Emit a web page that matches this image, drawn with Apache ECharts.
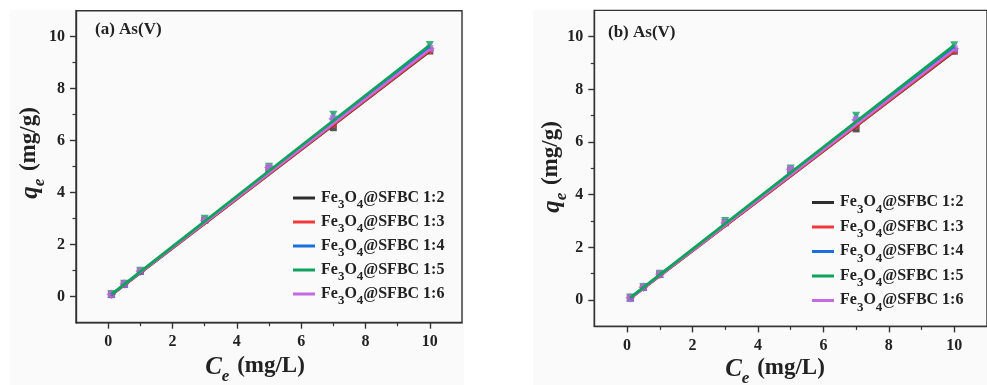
<!DOCTYPE html>
<html>
<head>
<meta charset="utf-8">
<script src="https://cdn.jsdelivr.net/npm/echarts@6/dist/echarts.min.js"></script>
<style>html,body{margin:0;padding:0;background:#fff}#c{width:987px;height:385px}</style>
</head>
<body>
<div id="c"></div>
<script>
// ---- data ----
const ceValues = [0.1, 0.5, 1, 3, 5, 7, 10];
const seriesNames = ['Fe3O4@SFBC 1:2', 'Fe3O4@SFBC 1:3', 'Fe3O4@SFBC 1:4', 'Fe3O4@SFBC 1:5', 'Fe3O4@SFBC 1:6'];
const qe_12 = [0.08, 0.48, 0.97, 2.94, 4.93, 6.50, 9.45];
const qe_13 = [0.09, 0.49, 0.98, 2.95, 4.95, 6.62, 9.47];
const qe_14 = [0.10, 0.50, 0.99, 2.98, 4.98, 6.95, 9.60];
const qe_15 = [0.10, 0.50, 1.00, 3.00, 5.00, 7.00, 9.68];
const qe_16 = [0.09, 0.49, 0.98, 2.93, 4.97, 6.85, 9.55];
// linear fit lines (at Ce = 0.1 and Ce = 10)
const fitCe = [0.1, 10];
const fit_12 = [0.05, 9.42];
const fit_13 = [0.06, 9.46];
const fit_14 = [0.08, 9.60];
const fit_15 = [0.09, 9.68];
const fit_16 = [0.07, 9.52];
const xTicks = [0, 2, 4, 6, 8, 10];
const yTicks = [0, 2, 4, 6, 8, 10];
const minorTicks = [1, 3, 5, 7, 9];
const panelTitles = ['(a) As(V)', '(b) As(V)'];

const pointSets = [qe_12, qe_13, qe_14, qe_15, qe_16];
const fitSets = [fit_12, fit_13, fit_14, fit_15, fit_16];
const colors = ['#2d2d2d', '#f0393a', '#1b6fdc', '#0ea35c', '#c46ae2'];
const symbols = ['rect', 'circle', 'triangle', 'triangle',
  'path://M0,-10 L2.6,-6.3 L7.1,-7.1 L6.3,-2.6 L10,0 L6.3,2.6 L7.1,7.1 L2.6,6.3 L0,10 L-2.6,6.3 L-7.1,7.1 L-6.3,2.6 L-10,0 L-6.3,-2.6 L-7.1,-7.1 L-2.6,-6.3 Z'];
const symRot = [0, 0, 0, 180, 0];
const symSize = [7, 7, 8, 8, 10];
const lineW = [2, 2.4, 2.4, 2.8, 2.4];

const FONT = '"Liberation Serif", "Times New Roman", serif';
const panels = [
  {grid: {left: 76, top: 10.7, width: 386, height: 312}, bg: {x: 10, y: 10, w: 454, h: 375},
   legend: {left: 293, top: 189.5, gap: 2}, title: {x: 95, y: 30},
   ytitle: {x: 31, y: 153}, xtitle: {x: 255, y: 368}},
  {grid: {left: 594.3, top: 10.4, width: 393, height: 316}, bg: {x: 533, y: 10, w: 454, h: 375},
   legend: {left: 812, top: 194, gap: 2.5}, title: {x: 608, y: 33},
   ytitle: {x: 553, y: 167}, xtitle: {x: 775, y: 370}}
];

const axisLine = {show: true, onZero: false, lineStyle: {color: '#333', width: 1.4}};
const labelStyle = {fontFamily: FONT, fontWeight: 'bold', fontSize: 16, color: '#222'};

const grids = [], xAxes = [], yAxes = [], series = [], legends = [], graphics = [];
panels.forEach((p, pi) => {
  grids.push(Object.assign({show: true, borderColor: '#333', borderWidth: 1.4, backgroundColor: 'transparent'}, p.grid));
  // main axes
  xAxes.push({gridIndex: pi, type: 'value', min: -1, max: 11, position: 'bottom',
    axisLine: axisLine, splitLine: {show: false},
    axisTick: {show: true, inside: false, length: 6, customValues: xTicks, lineStyle: {color: '#333', width: 1.4}},
    axisLabel: Object.assign({margin: 11, customValues: xTicks}, labelStyle)});
  yAxes.push({gridIndex: pi, type: 'value', min: -1, max: 11, position: 'left',
    axisLine: axisLine, splitLine: {show: false},
    axisTick: {show: true, inside: false, length: 6, customValues: yTicks, lineStyle: {color: '#333', width: 1.4}},
    axisLabel: Object.assign({margin: 11, customValues: yTicks}, labelStyle)});
  // minor tick axes
  xAxes.push({gridIndex: pi, type: 'value', min: -1, max: 11, position: 'bottom',
    axisLine: {show: false, onZero: false}, splitLine: {show: false},
    axisTick: {show: true, length: 3.5, customValues: minorTicks, lineStyle: {color: '#333', width: 1.2}},
    axisLabel: {show: false}});
  yAxes.push({gridIndex: pi, type: 'value', min: -1, max: 11, position: 'left',
    axisLine: {show: false, onZero: false}, splitLine: {show: false},
    axisTick: {show: true, length: 3.5, customValues: minorTicks, lineStyle: {color: '#333', width: 1.2}},
    axisLabel: {show: false}});
  const xi = pi * 2, yi = pi * 2;
  // markers
  seriesNames.forEach((nm, si) => {
    series.push({type: 'scatter', name: nm + ' pts', xAxisIndex: xi, yAxisIndex: yi,
      data: ceValues.map((c, k) => [c, pointSets[si][k]]),
      symbol: symbols[si], symbolRotate: symRot[si], symbolSize: symSize[si],
      itemStyle: {color: colors[si]}, z: 2 + si, silent: true});
  });
  // fit lines
  seriesNames.forEach((nm, si) => {
    series.push({type: 'line', name: nm, xAxisIndex: xi, yAxisIndex: yi,
      data: fitCe.map((c, k) => [c, fitSets[si][k]]),
      symbol: 'none', lineStyle: {color: colors[si], width: lineW[si]},
      itemStyle: {color: colors[si]}, z: 10 + (si === 4 ? 1 : 0) + (si === 3 ? 2 : 0), animation: false});
  });
  legends.push({left: p.legend.left, top: p.legend.top, orient: 'vertical', itemGap: p.legend.gap, padding: 0,
    itemWidth: 22, itemHeight: 3, icon: 'rect', data: seriesNames, selectedMode: false,
    formatter: nm => '{n|Fe}{s|3}{n|O}{s|4}{n|' + nm.slice(5) + '}',
    textStyle: {padding: [0, 0, 0, 1], rich: {
      n: {fontFamily: FONT, fontWeight: 'bold', fontSize: 16, color: '#222', lineHeight: 17, verticalAlign: 'top'},
      s: {fontFamily: FONT, fontWeight: 'bold', fontSize: 13, color: '#222', lineHeight: 13, verticalAlign: 'bottom', padding: [0, 0, -5, 0]}
    }}});
  graphics.push({type: 'rect', z: -100, shape: {x: p.bg.x, y: p.bg.y, width: p.bg.w, height: p.bg.h},
    style: {fill: '#fafafa'}, silent: true});
  graphics.push({type: 'text', z: 100, x: p.title.x, y: p.title.y,
    style: {text: panelTitles[pi], font: 'bold 17px ' + FONT, fill: '#222', verticalAlign: 'middle', align: 'left'}});
  graphics.push({type: 'text', z: 100, x: p.ytitle.x, y: p.ytitle.y, rotation: Math.PI / 2,
    style: {text: '{i|q}{s|e}{n| (mg/g)}', align: 'center', verticalAlign: 'middle',
      rich: {i: {font: 'italic bold 25px ' + FONT, fill: '#222', lineHeight: 26, verticalAlign: 'top'},
             s: {font: 'italic bold 17px ' + FONT, fill: '#222', lineHeight: 18, verticalAlign: 'bottom', padding: [0, 2, -4, 0]},
             n: {font: 'bold 23px ' + FONT, fill: '#222', lineHeight: 26, verticalAlign: 'top'}}}});
  graphics.push({type: 'text', z: 100, x: p.xtitle.x, y: p.xtitle.y,
    style: {text: '{i|C}{s|e}{n| (mg/L)}', align: 'center', verticalAlign: 'middle',
      rich: {i: {font: 'italic bold 25px ' + FONT, fill: '#222', lineHeight: 26, verticalAlign: 'top'},
             s: {font: 'italic bold 17px ' + FONT, fill: '#222', lineHeight: 18, verticalAlign: 'bottom', padding: [0, 2, -4, 0]},
             n: {font: 'bold 23px ' + FONT, fill: '#222', lineHeight: 26, verticalAlign: 'top'}}}});
});

const chart = echarts.init(document.getElementById('c'), null, {renderer: 'canvas'});
chart.setOption({
  animation: false,
  backgroundColor: '#ffffff',
  grid: grids, xAxis: xAxes, yAxis: yAxes, series: series, legend: legends,
  graphic: {elements: graphics}
});
</script>
</body>
</html>
